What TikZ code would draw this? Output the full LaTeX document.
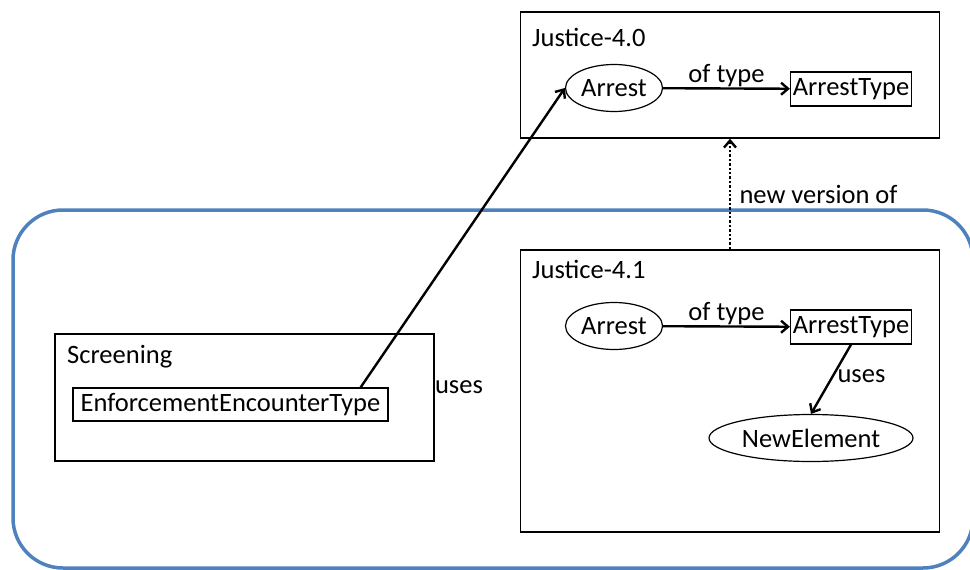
\documentclass[tikz,border=0pt]{standalone}
\usepackage{fontspec}
\setmainfont{Carlito}
\usetikzlibrary{positioning, arrows.meta, calc, shapes.geometric}

\definecolor{officeblue}{RGB}{79,129,189}

\tikzset{
  pkg/.style={draw, line width=1.5pt, inner sep=0pt},
  pkgname/.style={anchor=north west, inner sep=0pt},
  elem/.style={draw, ellipse, line width=1.2pt, inner sep=0pt},
  ctype/.style={draw, rectangle, line width=1.2pt, inner sep=0pt},
  rel/.style={line width=2.4pt, -{Straight Barb[length=7pt,width=12pt]}},
}

\begin{document}
\begin{tikzpicture}[x=1pt, y=-1pt, font=\fontsize{26.5}{30}\selectfont]
   \useasboundingbox (0,0) rectangle (970,570);

   % The namespace around Justice-4.1 and Screening
   \draw[officeblue, line width=3.5pt, rounded corners=50pt] (13,210) rectangle (973,568);

   % Justice-4.0
   \node[pkg, minimum width=419pt, minimum height=126pt] (j40) at (730,75) {};
   \node[pkgname] (j40name) at (532,28) {Justice-4.0};
   \node[elem, minimum width=97pt, minimum height=47pt] (arr0) at (614,88) {Arrest};
   \node[ctype, minimum width=121pt, minimum height=34pt] (at0) at (851,89) {ArrestType};

   % Justice-4.1
   \node[pkg, minimum width=419pt, minimum height=282pt] (j41) at (730,391) {};
   \node[pkgname] (j41name) at (532,260) {Justice-4.1};
   \node[elem, minimum width=97pt, minimum height=47pt] (arr1) at (614,326) {Arrest};
   \node[ctype, minimum width=121pt, minimum height=34pt] (at1) at (851,327) {ArrestType};
   \node[elem, minimum width=204pt, minimum height=47pt] (newel) at (811,438) {NewElement};

   % Screening
   \node[pkg, minimum width=379pt, minimum height=127pt] (scr) at (244.5,397.5) {};
   \node[pkgname] (scrname) at (67,345) {Screening};
   \node[ctype, minimum width=315pt, minimum height=33pt] (eet) at (230.5,404.5) {EnforcementEncounterType};
   \node (uses0) at (459,387) {uses};

   % Relations
   \draw[rel] (arr0) -- node[above, yshift=-3pt] {of type} (at0);
   \draw[rel] (arr1) -- node[above, yshift=-3pt] {of type} (at1);
   \draw[rel] (at1.south) -- node[right, pos=0.45] {uses} (newel.north);
   \draw[rel] ($(eet.north east)+(-28,0)$) -- (arr0.west);
   \draw[line width=2.4pt, dotted, -{Straight Barb[length=7pt,width=12pt]}] (j41.north) -- node[right, xshift=5pt, pos=0.5] {new version of} (j40.south);
\end{tikzpicture}
\end{document}
